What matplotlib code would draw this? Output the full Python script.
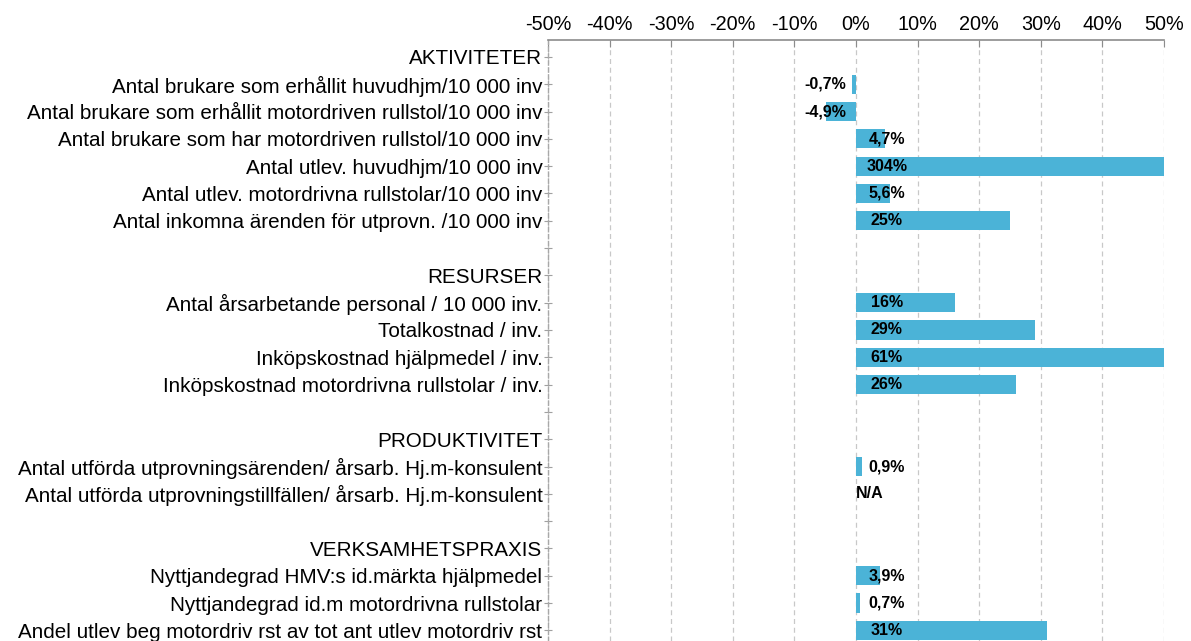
import matplotlib
matplotlib.use("Agg")
import matplotlib.pyplot as plt
import numpy as np

plt.rcParams['font.family'] = ['Liberation Sans', 'DejaVu Sans']

labels = [
    "AKTIVITETER",
    "Antal brukare som erhållit huvudhjm/10 000 inv",
    "Antal brukare som erhållit motordriven rullstol/10 000 inv",
    "Antal brukare som har motordriven rullstol/10 000 inv",
    "Antal utlev. huvudhjm/10 000 inv",
    "Antal utlev. motordrivna rullstolar/10 000 inv",
    "Antal inkomna ärenden för utprovn. /10 000 inv",
    "",
    "RESURSER",
    "Antal årsarbetande personal / 10 000 inv.",
    "Totalkostnad / inv.",
    "Inköpskostnad hjälpmedel / inv.",
    "Inköpskostnad motordrivna rullstolar / inv.",
    "",
    "PRODUKTIVITET",
    "Antal utförda utprovningsärenden/ årsarb. Hj.m-konsulent",
    "Antal utförda utprovningstillfällen/ årsarb. Hj.m-konsulent",
    "",
    "VERKSAMHETSPRAXIS",
    "Nyttjandegrad HMV:s id.märkta hjälpmedel",
    "Nyttjandegrad id.m motordrivna rullstolar",
    "Andel utlev beg motordriv rst av tot ant utlev motordriv rst",
]
# percent values; None = no bar
values = [None, -0.7, -4.9, 4.7, 304, 5.6, 25, None,
          None, 16, 29, 61, 26, None,
          None, 0.9, "N/A", None,
          None, 3.9, 0.7, 31]
value_texts = [None, "-0,7%", "-4,9%", "4,7%", "304%", "5,6%", "25%", None,
               None, "16%", "29%", "61%", "26%", None,
               None, "0,9%", "N/A", None,
               None, "3,9%", "0,7%", "31%"]
xticks = [-50, -40, -30, -20, -10, 0, 10, 20, 30, 40, 50]

fig = plt.figure(figsize=(11.91, 6.41), dpi=100)
ax = fig.add_axes([548/1191, 0, (1164-548)/1191, 1 - 40/641])

color = '#4BB3D7'
y = np.arange(len(labels))
for i, (v, t) in enumerate(zip(values, value_texts)):
    if isinstance(v, (int, float)):
        ax.barh(i, v, height=0.7, color=color, zorder=2)
        xpos = 5 if v >= 0 else -5
        ax.text(xpos, i, t, ha='center', va='center', fontsize=11.5,
                fontweight='bold', zorder=3)
    elif v == "N/A":
        ax.text(0, i, t, ha='left', va='center', fontsize=11.5,
                fontweight='bold', zorder=3)

ax.set_xlim(-50, 50)
ax.set_ylim(21.39, -0.62)
ax.set_yticks(y)
ax.set_yticklabels(labels, fontsize=14.9)
ax.xaxis.tick_top()
ax.set_xticks(xticks)
ax.set_xticklabels([f"{v}%" for v in xticks], fontsize=14.3)

ax.grid(axis='x', color='#c8c8c8', linestyle=(0, (4, 3)), linewidth=0.9, zorder=0)
ax.set_axisbelow(True)

for s in ['right', 'bottom']:
    ax.spines[s].set_visible(False)
ax.spines['top'].set_color('#8c8c8c')
ax.spines['top'].set_linewidth(1.2)
ax.spines['left'].set_color('#a8a8a8')
ax.spines['left'].set_linestyle((0, (3, 2)))
ax.spines['left'].set_linewidth(1.0)

ax.tick_params(axis='x', direction='in', length=5, color='#8c8c8c', pad=4)
ax.tick_params(axis='y', direction='inout', length=6, color='#a0a0a0', pad=1)

fig.savefig("out.png", dpi=100)
